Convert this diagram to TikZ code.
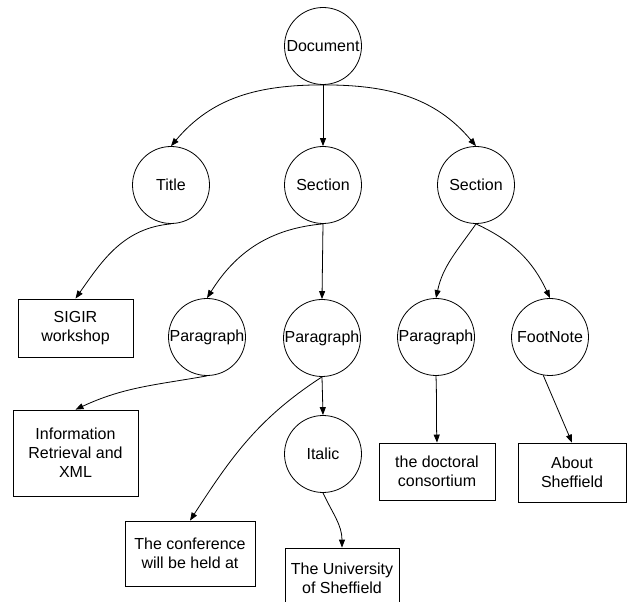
\documentclass[tikz,border=0pt]{standalone}
\usepackage{fontspec}
\setmainfont{Liberation Sans}
\usetikzlibrary{arrows.meta,positioning}

\begin{document}
\begin{tikzpicture}[
    x=0.75pt, y=-0.75pt,
    every node/.style={font=\fontsize{12}{14.3}\selectfont},
    elem/.style={circle, draw, line width=0.6pt, inner sep=0pt, minimum size=57.75pt},
    txt/.style={rectangle, draw, line width=0.6pt, align=center, inner sep=0pt},
    link/.style={-{Triangle[length=6pt,width=4.5pt]}, line width=0.6pt}
]
\useasboundingbox (0,0) rectangle (629,602);
% Element nodes (circles)
\foreach \name/\x/\y/\lbl in {
    doc/323/46/Document,
    title/171/185/Title,
    secA/323/185/Section,
    secB/476/185/Section,
    parA/207/337/Paragraph,
    parB/322/338/Paragraph,
    parC/436/337/Paragraph,
    foot/550/337/FootNote,
    ital/323/454/Italic
} {
    \node[elem] (\name) at (\x,\y) {\lbl};
}
% Text nodes (boxes), sizes taken from px
\node[txt, minimum width=86.25pt, minimum height=43.5pt] (sigir) at (75.5,328) {SIGIR\\workshop};
\node[txt, minimum width=93.75pt, minimum height=64.5pt] (info) at (75.5,453) {Information\\Retrieval and\\XML};
\node[txt, minimum width=97.5pt, minimum height=48.75pt] (conf) at (190,553.5) {The conference\\will be held at};
\node[txt, minimum width=85.5pt, minimum height=45pt] (univ) at (342,578) {The University\\of Sheffield};
\node[txt, minimum width=87pt, minimum height=42.75pt] (doct) at (437,471.5) {the doctoral\\consortium};
\node[txt, minimum width=81pt, minimum height=44.25pt] (about) at (572,472.5) {About\\Sheffield};
% Connectors
\draw[link] (doc.south) to[out=180, in=50] (title.north);
\draw[link] (doc.south) -- (secA.north);
\draw[link] (doc.south) to[out=0, in=130] (secB.north);
\draw[link] (title.south) to[out=185, in=55] (sigir.north);
\draw[link] (secA.south) to[out=185, in=58] (parA.north);
\draw[link] (secA.south) -- (parB.north);
\draw[link] (parA.south) to[out=190, in=25] (info.north);
\draw[link] (parB.south) to[out=213, in=57] (conf.north);
\draw[link] (parB.south) -- (ital.north);
\draw[link] (ital.south) to[out=-65, in=90] (univ.north);
\draw[link] (secB.south) to[out=235, in=78] (parC.north);
\draw[link] (secB.south) to[out=-25, in=115] (foot.north);
\draw[link] (parC.south) to[out=-88, in=92] (doct.north);
\draw[link] (foot.-100) -- (about.north);
\end{tikzpicture}
\end{document}
